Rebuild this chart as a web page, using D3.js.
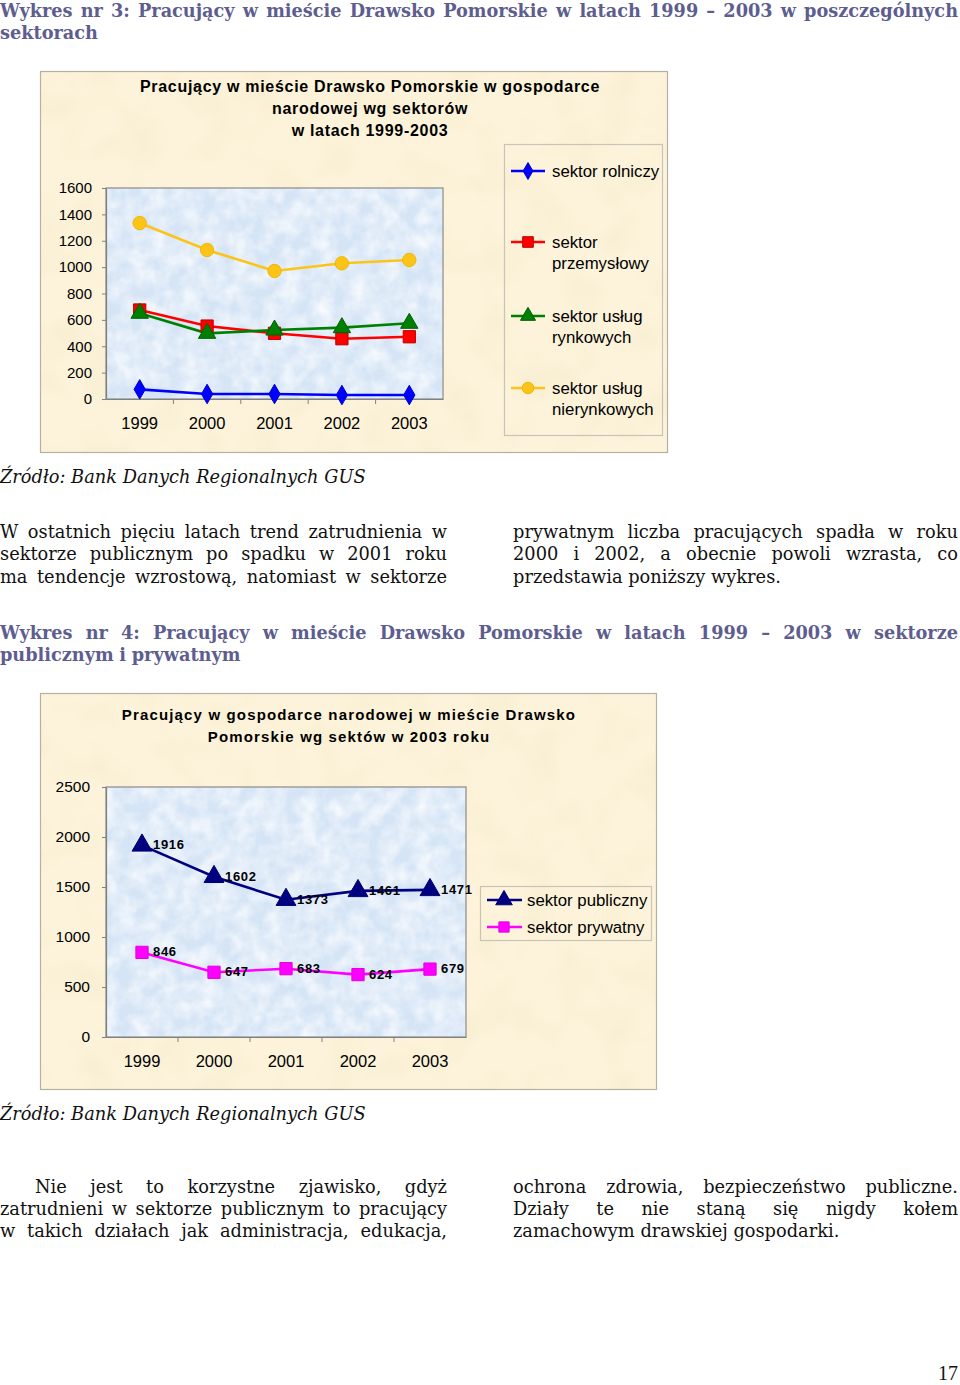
<!DOCTYPE html>
<html><head><meta charset="utf-8">
<script src="https://cdn.jsdelivr.net/npm/d3@7"></script>
<style>html,body{margin:0;padding:0;background:#fff;}svg{display:block;}</style>
</head><body>
<svg id="page" width="960" height="1385"></svg>
<script>
// ---------- DATA ----------
const years = ["1999", "2000", "2001", "2002", "2003"];
const sektorRolniczy = [73, 38, 38, 30, 30];
const sektorPrzemyslowy = [675, 553, 498, 457, 472];
const sektorUslugRynkowych = [650, 498, 523, 541, 574];
const sektorUslugNierynkowych = [1334, 1130, 971, 1029, 1054];
const yTicks1 = [0, 200, 400, 600, 800, 1000, 1200, 1400, 1600];

const sektorPubliczny = [1916, 1602, 1373, 1461, 1471];
const sektorPrywatny = [846, 647, 683, 624, 679];
const yTicks2 = [0, 500, 1000, 1500, 2000, 2500];

const series1Names = [["sektor rolniczy"], ["sektor", "przemysłowy"], ["sektor usług", "rynkowych"], ["sektor usług", "nierynkowych"]];
const series2Names = ["sektor publiczny", "sektor prywatny"];

// ---------- SETUP ----------
const svg = d3.select("#page");
svg.append("rect").attr("width", 960).attr("height", 1385).attr("fill", "#fff");
const defs = svg.append("defs");
const f1 = defs.append("filter").attr("id", "noiseBlue").attr("x", 0).attr("y", 0).attr("width", "100%").attr("height", "100%");
f1.append("feTurbulence").attr("type", "fractalNoise").attr("baseFrequency", "0.06").attr("numOctaves", 3).attr("seed", 4);
f1.append("feColorMatrix").attr("type", "matrix").attr("values", "0 0 0 0 1  0 0 0 0 1  0 0 0 0 1  1.4 0 0 0 -0.45");
const f2 = defs.append("filter").attr("id", "noiseTan").attr("x", 0).attr("y", 0).attr("width", "100%").attr("height", "100%");
f2.append("feTurbulence").attr("type", "fractalNoise").attr("baseFrequency", "0.025").attr("numOctaves", 2).attr("seed", 9);
f2.append("feColorMatrix").attr("type", "matrix").attr("values", "0 0 0 0 0.93  0 0 0 0 0.84  0 0 0 0 0.62  1.6 0 0 0 -0.72");

const SANS = "'Liberation Sans', Arial, sans-serif";
const SERIF = "'DejaVu Serif', serif";

function textLine(str, x0, x1, y, o) {
  const grp = svg.append("g").attr("font-family", o.family).attr("font-weight", o.weight || "normal")
    .attr("font-style", o.style || "normal").attr("fill", o.fill || "#000");
  let size = o.size;
  const words = str.split(" ");
  const nodes = words.map(w => grp.append("text").attr("y", y).text(w));
  const measure = () => { nodes.forEach(n => n.attr("font-size", size)); return nodes.map(n => n.node().getComputedTextLength()); };
  let ws = measure();
  let total = d3.sum(ws);
  const avail = x1 - x0;
  const minGap = size * 0.24;
  if (total + minGap * (words.length - 1) > avail) {
    size = size * avail / (total + minGap * (words.length - 1));
    ws = measure(); total = d3.sum(ws);
  }
  const gap = (o.justify && words.length > 1) ? (avail - total) / (words.length - 1) : size * 0.32;
  let x = x0;
  nodes.forEach((n, i) => { n.attr("x", x); x += ws[i] + gap; });
}

const headStyle = { family: SERIF, size: 17.7, weight: "bold", fill: "#5d5d8f" };
const bodyStyle = { family: SERIF, size: 17.8, fill: "#111" };
const srcStyle = { family: SERIF, size: 17.8, style: "italic", fill: "#111" };

// ---------- TEXT ----------
textLine("Wykres nr 3: Pracujący w mieście Drawsko Pomorskie w latach 1999 – 2003 w poszczególnych", 0, 958, 17, { ...headStyle, justify: true });
textLine("sektorach", 0, 958, 39, headStyle);
textLine("Źródło: Bank Danych Regionalnych GUS", 0, 960, 483, srcStyle);

textLine("W ostatnich pięciu latach trend zatrudnienia w", 0, 447, 538, { ...bodyStyle, justify: true });
textLine("sektorze publicznym po spadku w 2001 roku", 0, 447, 560, { ...bodyStyle, justify: true });
textLine("ma tendencje wzrostową, natomiast w sektorze", 0, 447, 583, { ...bodyStyle, justify: true });
textLine("prywatnym liczba pracujących spadła w roku", 513, 958, 538, { ...bodyStyle, justify: true });
textLine("2000 i 2002, a obecnie powoli wzrasta, co", 513, 958, 560, { ...bodyStyle, justify: true });
textLine("przedstawia poniższy wykres.", 513, 958, 583, bodyStyle);

textLine("Wykres nr 4: Pracujący w mieście Drawsko Pomorskie w latach 1999 – 2003 w sektorze", 0, 958, 639, { ...headStyle, justify: true });
textLine("publicznym i prywatnym", 0, 958, 661, headStyle);

textLine("Źródło: Bank Danych Regionalnych GUS", 0, 960, 1120, srcStyle);

textLine("Nie jest to korzystne zjawisko, gdyż", 35, 447, 1193, { ...bodyStyle, justify: true });
textLine("zatrudnieni w sektorze publicznym to pracujący", 0, 447, 1215, { ...bodyStyle, justify: true });
textLine("w takich działach jak administracja, edukacja,", 0, 447, 1237, { ...bodyStyle, justify: true });
textLine("ochrona zdrowia, bezpieczeństwo publiczne.", 513, 958, 1193, { ...bodyStyle, justify: true });
textLine("Działy te nie staną się nigdy kołem", 513, 958, 1215, { ...bodyStyle, justify: true });
textLine("zamachowym drawskiej gospodarki.", 513, 958, 1237, bodyStyle);

svg.append("text").attr("x", 958).attr("y", 1380).attr("text-anchor", "end").attr("font-family", "'Liberation Serif', serif")
  .attr("font-size", 20).attr("fill", "#111").text("17");

// ---------- helpers ----------
function frame(x, y, w, h) {
  svg.append("rect").attr("x", x).attr("y", y).attr("width", w).attr("height", h).attr("fill", "#fcf3da");
  svg.append("rect").attr("x", x).attr("y", y).attr("width", w).attr("height", h).attr("filter", "url(#noiseTan)");
  svg.append("rect").attr("x", x + 0.5).attr("y", y + 0.5).attr("width", w - 1).attr("height", h - 1)
    .attr("fill", "none").attr("stroke", "#b4b0a4").attr("stroke-width", 1.2);
}
function plotBg(x, y, w, h) {
  svg.append("rect").attr("x", x).attr("y", y).attr("width", w).attr("height", h).attr("fill", "#d6e5f6");
  svg.append("rect").attr("x", x).attr("y", y).attr("width", w).attr("height", h).attr("filter", "url(#noiseBlue)");
  svg.append("rect").attr("x", x).attr("y", y).attr("width", w).attr("height", h)
    .attr("fill", "none").attr("stroke", "#8a8a8a").attr("stroke-width", 1.2);
}
function marker(g, type, cx, cy, size, fill, stroke) {
  const sym = { diamond: d3.symbolDiamond, square: d3.symbolSquare, triangle: d3.symbolTriangle, circle: d3.symbolCircle }[type];
  g.append("path").attr("d", d3.symbol().type(sym).size(size)()).attr("transform", `translate(${cx},${cy})`)
    .attr("fill", fill).attr("stroke", stroke || fill).attr("stroke-width", 1);
}

// ---------- CHART 1 ----------
frame(40, 71, 628, 382);
const P1 = { l: 106, r: 443, t: 188, b: 399 };
plotBg(P1.l, P1.t, P1.r - P1.l, P1.b - P1.t);
const x1 = d3.scaleBand().domain(years).range([P1.l, P1.r]);
const y1 = d3.scaleLinear().domain([0, 1600]).range([P1.b, P1.t]);

[["Pracujący w mieście Drawsko Pomorskie w gospodarce", 92], ["narodowej wg sektorów", 114], ["w latach 1999-2003", 136]].forEach(([t, yy]) => {
  svg.append("text").attr("x", 370).attr("y", yy).attr("text-anchor", "middle").attr("font-family", SANS)
    .attr("font-weight", "bold").attr("font-size", 16).attr("letter-spacing", 0.7).attr("fill", "#000").text(t);
});

const ya1 = svg.append("g").attr("transform", `translate(${P1.l},0)`)
  .call(d3.axisLeft(y1).tickValues(yTicks1).tickSize(4).tickSizeOuter(0).tickPadding(10).tickFormat(d3.format("d")));
ya1.select(".domain").attr("stroke", "#808080").attr("stroke-width", 1.2);
ya1.selectAll(".tick line").attr("stroke", "#808080");
ya1.selectAll("text").attr("font-family", SANS).attr("font-size", 15).attr("fill", "#000");

const xa1 = svg.append("g").attr("transform", `translate(0,${P1.b})`)
  .call(d3.axisBottom(x1).tickSize(0).tickPadding(18));
xa1.select(".domain").attr("stroke", "#808080").attr("stroke-width", 1.2);
xa1.selectAll("text").attr("font-family", SANS).attr("font-size", 16.5).attr("fill", "#000");
svg.append("g").selectAll("line").data(years.slice(1)).join("line")
  .attr("x1", d => x1(d)).attr("x2", d => x1(d)).attr("y1", P1.b).attr("y2", P1.b + 5).attr("stroke", "#808080");

const series1 = [
  { v: sektorRolniczy, color: "#0000ff", stroke: "#0000cc", m: "diamond", ms: 110 },
  { v: sektorPrzemyslowy, color: "#ff0000", stroke: "#c00000", m: "square", ms: 150 },
  { v: sektorUslugRynkowych, color: "#008000", stroke: "#006000", m: "triangle", ms: 130 },
  { v: sektorUslugNierynkowych, color: "#fcc419", stroke: "#f0b800", m: "circle", ms: 140 }
];
const cx1 = d => x1(d) + x1.bandwidth() / 2;
const g1 = svg.append("g");
series1.forEach(s => {
  g1.append("path").datum(s.v).attr("fill", "none").attr("stroke", s.color).attr("stroke-width", 2.6)
    .attr("d", d3.line().x((d, i) => cx1(years[i])).y(d => y1(d)));
});
series1.forEach(s => {
  s.v.forEach((d, i) => marker(g1, s.m, cx1(years[i]), y1(d), s.ms, s.color, s.stroke));
});

// legend 1
svg.append("rect").attr("x", 504.5).attr("y", 144.5).attr("width", 158).attr("height", 291)
  .attr("fill", "none").attr("stroke", "#c8c4b8").attr("stroke-width", 1.2);
const legY1 = [171, 242, 316, 388];
series1.forEach((s, i) => {
  const yy = legY1[i];
  svg.append("line").attr("x1", 511).attr("x2", 545).attr("y1", yy).attr("y2", yy).attr("stroke", s.color).attr("stroke-width", 2.6);
  marker(svg, s.m, 528, yy, s.ms * 0.75, s.color, s.stroke);
  series1Names[i].forEach((t, j) => {
    svg.append("text").attr("x", 552).attr("y", yy + 6 + j * 21).attr("font-family", SANS).attr("font-size", 16.8).attr("fill", "#000").text(t);
  });
});

// ---------- CHART 2 ----------
frame(40, 693, 617, 397);
const P2 = { l: 106, r: 466, t: 787, b: 1037 };
plotBg(P2.l, P2.t, P2.r - P2.l, P2.b - P2.t);
const x2 = d3.scaleBand().domain(years).range([P2.l, P2.r]);
const y2 = d3.scaleLinear().domain([0, 2500]).range([P2.b, P2.t]);

[["Pracujący w gospodarce narodowej w mieście Drawsko", 720], ["Pomorskie wg sektów w 2003 roku", 742]].forEach(([t, yy]) => {
  svg.append("text").attr("x", 349).attr("y", yy).attr("text-anchor", "middle").attr("font-family", SANS)
    .attr("font-weight", "bold").attr("font-size", 15).attr("letter-spacing", 1.15).attr("fill", "#000").text(t);
});

const ya2 = svg.append("g").attr("transform", `translate(${P2.l},0)`)
  .call(d3.axisLeft(y2).tickValues(yTicks2).tickSize(4).tickSizeOuter(0).tickPadding(12).tickFormat(d3.format("d")));
ya2.select(".domain").attr("stroke", "#808080").attr("stroke-width", 1.2);
ya2.selectAll(".tick line").attr("stroke", "#808080");
ya2.selectAll("text").attr("font-family", SANS).attr("font-size", 15.5).attr("fill", "#000");

const xa2 = svg.append("g").attr("transform", `translate(0,${P2.b})`)
  .call(d3.axisBottom(x2).tickSize(0).tickPadding(18));
xa2.select(".domain").attr("stroke", "#808080").attr("stroke-width", 1.2);
xa2.selectAll("text").attr("font-family", SANS).attr("font-size", 16.5).attr("fill", "#000");
svg.append("g").selectAll("line").data(years.slice(1)).join("line")
  .attr("x1", d => x2(d)).attr("x2", d => x2(d)).attr("y1", P2.b).attr("y2", P2.b + 5).attr("stroke", "#808080");

const series2 = [
  { v: sektorPubliczny, color: "#000080", stroke: "#000070", m: "triangle", ms: 170 },
  { v: sektorPrywatny, color: "#ff00ff", stroke: "#e000e0", m: "square", ms: 150 }
];
const cx2 = d => x2(d) + x2.bandwidth() / 2;
const g2 = svg.append("g");
series2.forEach(s => {
  g2.append("path").datum(s.v).attr("fill", "none").attr("stroke", s.color).attr("stroke-width", 2.6)
    .attr("d", d3.line().x((d, i) => cx2(years[i])).y(d => y2(d)));
});
series2.forEach(s => {
  s.v.forEach((d, i) => {
    marker(g2, s.m, cx2(years[i]), y2(d), s.ms, s.color, s.stroke);
    g2.append("text").attr("x", cx2(years[i]) + 11).attr("y", y2(d) + 4).attr("font-family", SANS)
      .attr("font-weight", "bold").attr("font-size", 13).attr("letter-spacing", 0.7).attr("fill", "#000").text(d);
  });
});

// legend 2
svg.append("rect").attr("x", 480.5).attr("y", 886.5).attr("width", 171).attr("height", 54)
  .attr("fill", "none").attr("stroke", "#c8c4b8").attr("stroke-width", 1.2);
const legY2 = [900, 927];
series2.forEach((s, i) => {
  const yy = legY2[i];
  svg.append("line").attr("x1", 487).attr("x2", 522).attr("y1", yy).attr("y2", yy).attr("stroke", s.color).attr("stroke-width", 2.6);
  marker(svg, s.m, 504, yy, s.ms * 0.7, s.color, s.stroke);
  svg.append("text").attr("x", 527).attr("y", yy + 6).attr("font-family", SANS).attr("font-size", 16.8).attr("fill", "#000").text(series2Names[i]);
});
</script>
</body></html>
